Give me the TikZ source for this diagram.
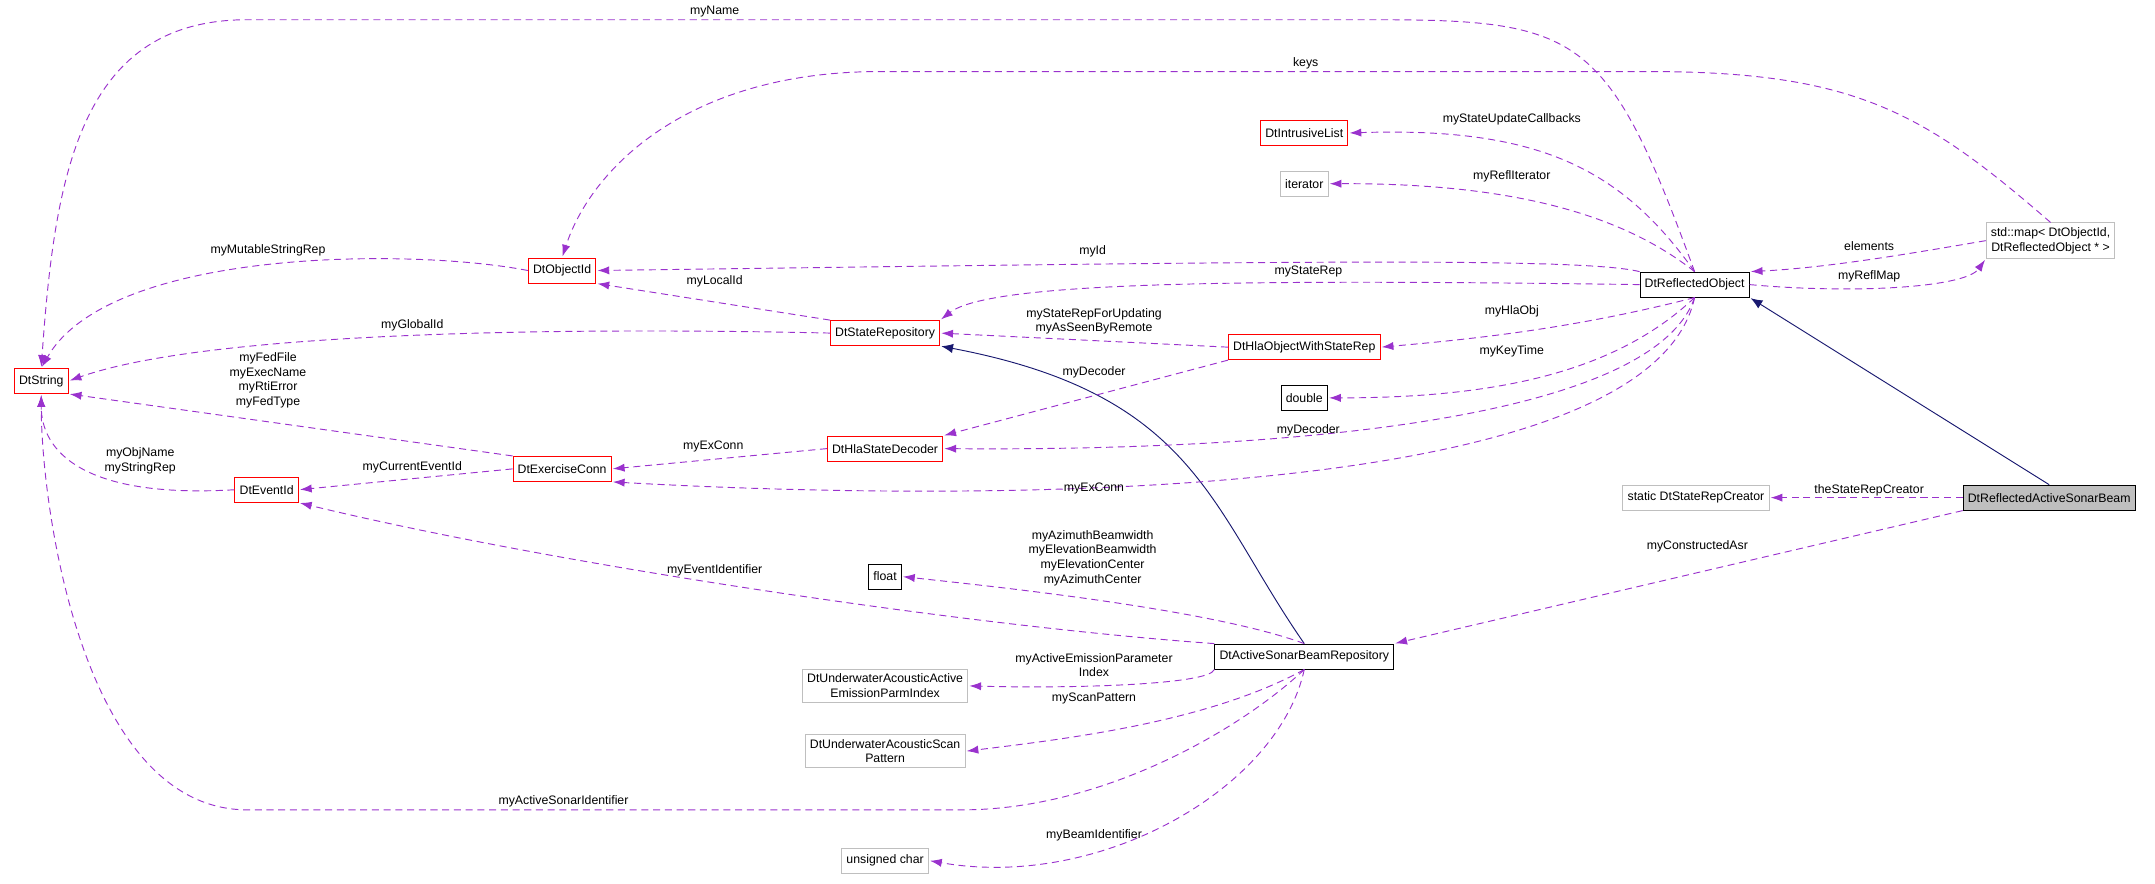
\documentclass[tikz,border=0pt]{standalone}
\usepackage{fontspec}
\setmainfont{Liberation Sans}
\usetikzlibrary{positioning, calc}
\usetikzlibrary{arrows.meta}
\definecolor{mbrown}{HTML}{9A32CD}
\definecolor{mnavy}{HTML}{191970}
\begin{document}
\begin{tikzpicture}[x=0.04123cm,y=-0.016913cm,font=\fontsize{10.5}{12.5}\selectfont]
	\tikzstyle{c-node}=[draw,thick,fill=white,inner sep=4pt,minimum height=0.75cm,align=center]
	\tikzstyle{r-node}=[c-node,draw=red]
	\tikzstyle{g-node}=[c-node,draw=black!25]
	\tikzstyle{b-node}=[c-node,draw=black]
	\tikzstyle{mem}=[draw=mbrown,thick,dash pattern=on 6pt off 4pt,-{Latex[length=10pt,width=7pt]},shorten >=1pt]
	\tikzstyle{inh}=[draw=mnavy,thick,-{Latex[length=10pt,width=8pt]},shorten >=1pt]
	\tikzstyle{lbl}=[align=center,inner sep=1pt]
	\useasboundingbox (0,0) rectangle (1568,1568);

	% classes
	\node[r-node] (str)	at (30,676)	{DtString};
	\node[r-node] (oid)	at (409,480)	{DtObjectId};
	\node[r-node] (ilist)	at (949,236)	{DtIntrusiveList};
	\node[g-node] (iter)	at (949,326)	{iterator};
	\node[b-node] (refl)	at (1233,505)	{DtReflectedObject};
	\node[g-node] (smap)	at (1492,427)	{std::map< DtObjectId,\\ DtReflectedObject * >};
	\node[r-node] (srep)	at (644,591)	{DtStateRepository};
	\node[r-node] (hlaobj)	at (949,616)	{DtHlaObjectWithStateRep};
	\node[b-node] (dbl)	at (949,706)	{double};
	\node[r-node] (dec)	at (644,796)	{DtHlaStateDecoder};
	\node[r-node] (exconn)	at (409,832)	{DtExerciseConn};
	\node[r-node] (evid)	at (194,869)	{DtEventId};
	\node[g-node] (creator)	at (1234,883)	{static DtStateRepCreator};
	\node[b-node,fill=black!25] (beam) at (1491,883) {DtReflectedActiveSonarBeam};
	\node[b-node] (flt)	at (644,1023)	{float};
	\node[b-node] (asbr)	at (949,1165)	{DtActiveSonarBeamRepository};
	\node[g-node] (emis)	at (644,1217)	{DtUnderwaterAcousticActive\\EmissionParmIndex};
	\node[g-node] (scan)	at (644,1333)	{DtUnderwaterAcousticScan\\Pattern};
	\node[g-node] (uchar)	at (644,1527)	{unsigned char};

	% inheritance
	\draw[inh] (asbr.north) .. controls (880,900) and (870,700) .. (srep.south east);
	\draw[inh] (beam.north) -- (refl.south east);

	% members of DtReflectedObject
	\draw[mem] (refl.north) .. controls (1170,60) and (1150,35) .. (1000,35) -- (180,35) .. controls (60,35) and (40,300) .. (str.north)
		node[lbl] at (520,20) {myName};
	\draw[mem] (smap.north) .. controls (1400,200) and (1350,127) .. (1200,127) -- (640,127) .. controls (500,127) and (430,300) .. (oid.north)
		node[lbl] at (950,113) {keys};
	\draw[mem] (refl.north) .. controls (1180,300) and (1120,225) .. (ilist.east)
		node[lbl] at (1100,212) {myStateUpdateCallbacks};
	\draw[mem] (refl.north) .. controls (1180,380) and (1100,325) .. (iter.east)
		node[lbl] at (1100,313) {myReflIterator};
	\draw[mem] (refl.north west) .. controls (1150,455) and (900,465) .. (oid.east)
		node[lbl] at (795,446) {myId};
	\draw[mem] (refl.west) .. controls (900,495) and (720,500) .. (srep.north east)
		node[lbl] at (952,482) {myStateRep};
	\draw[mem] (smap.west) .. controls (1390,450) and (1330,475) .. (refl.north east)
		node[lbl] at (1360,437) {elements};
	\draw[mem] (refl.east) .. controls (1350,522) and (1430,510) .. (smap.south west)
		node[lbl] at (1360,490) {myReflMap};
	\draw[mem] (refl.south) .. controls (1150,580) and (1080,600) .. (hlaobj.east)
		node[lbl] at (1100,552) {myHlaObj};
	\draw[mem] (refl.south) .. controls (1180,650) and (1100,706) .. (dbl.east)
		node[lbl] at (1100,623) {myKeyTime};
	\draw[mem] (refl.south) .. controls (1200,760) and (900,800) .. (dec.east)
		node[lbl] at (952,763) {myDecoder};
	\draw[mem] (refl.south) .. controls (1200,900) and (700,890) .. (exconn.south east)
		node[lbl] at (796,866) {myExConn};

	% members of the helpers
	\draw[mem] (oid.west) .. controls (300,440) and (80,440) .. (str.north)
		node[lbl] at (195,444) {myMutableStringRep};
	\draw[mem] (srep.north west) -- (oid.south east)
		node[lbl] at (520,500) {myLocalId};
	\draw[mem] (srep.west) .. controls (400,580) and (150,590) .. (str.east)
		node[lbl] at (300,578) {myGlobalId};
	\draw[mem] (hlaobj.west) -- (srep.east)
		node[lbl] at (796,570) {myStateRepForUpdating\\myAsSeenByRemote};
	\draw[mem] (hlaobj.south west) -- (dec.north east)
		node[lbl] at (796,660) {myDecoder};
	\draw[mem] (dec.west) -- (exconn.east)
		node[lbl] at (519,793) {myExConn};
	\draw[mem] (exconn.north west) -- (str.south east)
		node[lbl] at (195,675) {myFedFile\\myExecName\\myRtiError\\myFedType};
	\draw[mem] (exconn.west) -- (evid.east)
		node[lbl] at (300,829) {myCurrentEventId};
	\draw[mem] (evid.west) .. controls (60,885) and (30,800) .. (str.south)
		node[lbl] at (102,818) {myObjName\\myStringRep};

	% members of DtReflectedActiveSonarBeam
	\draw[mem] (beam.west) -- (creator.east)
		node[lbl] at (1360,870) {theStateRepCreator};
	\draw[mem] (beam.south west) -- (asbr.north east)
		node[lbl] at (1235,970) {myConstructedAsr};

	% members of DtActiveSonarBeamRepository
	\draw[mem] (asbr.north west) .. controls (700,1110) and (400,1000) .. (evid.south east)
		node[lbl] at (520,1012) {myEventIdentifier};
	\draw[mem] (asbr.north) .. controls (880,1080) and (720,1040) .. (flt.east)
		node[lbl] at (795,990) {myAzimuthBeamwidth\\myElevationBeamwidth\\myElevationCenter\\myAzimuthCenter};
	\draw[mem] (asbr.south west) .. controls (880,1215) and (780,1222) .. (emis.east)
		node[lbl] at (796,1180) {myActiveEmissionParameter\\Index};
	\draw[mem] (asbr.south) .. controls (880,1280) and (780,1310) .. (scan.east)
		node[lbl] at (796,1240) {myScanPattern};
	\draw[mem] (asbr.south) .. controls (900,1300) and (800,1437) .. (700,1437) -- (180,1437) .. controls (60,1437) and (30,900) .. (str.south)
		node[lbl] at (410,1422) {myActiveSonarIdentifier};
	\draw[mem] (asbr.south) .. controls (930,1400) and (800,1580) .. (uchar.east)
		node[lbl] at (796,1482) {myBeamIdentifier};
\end{tikzpicture}
\end{document}
